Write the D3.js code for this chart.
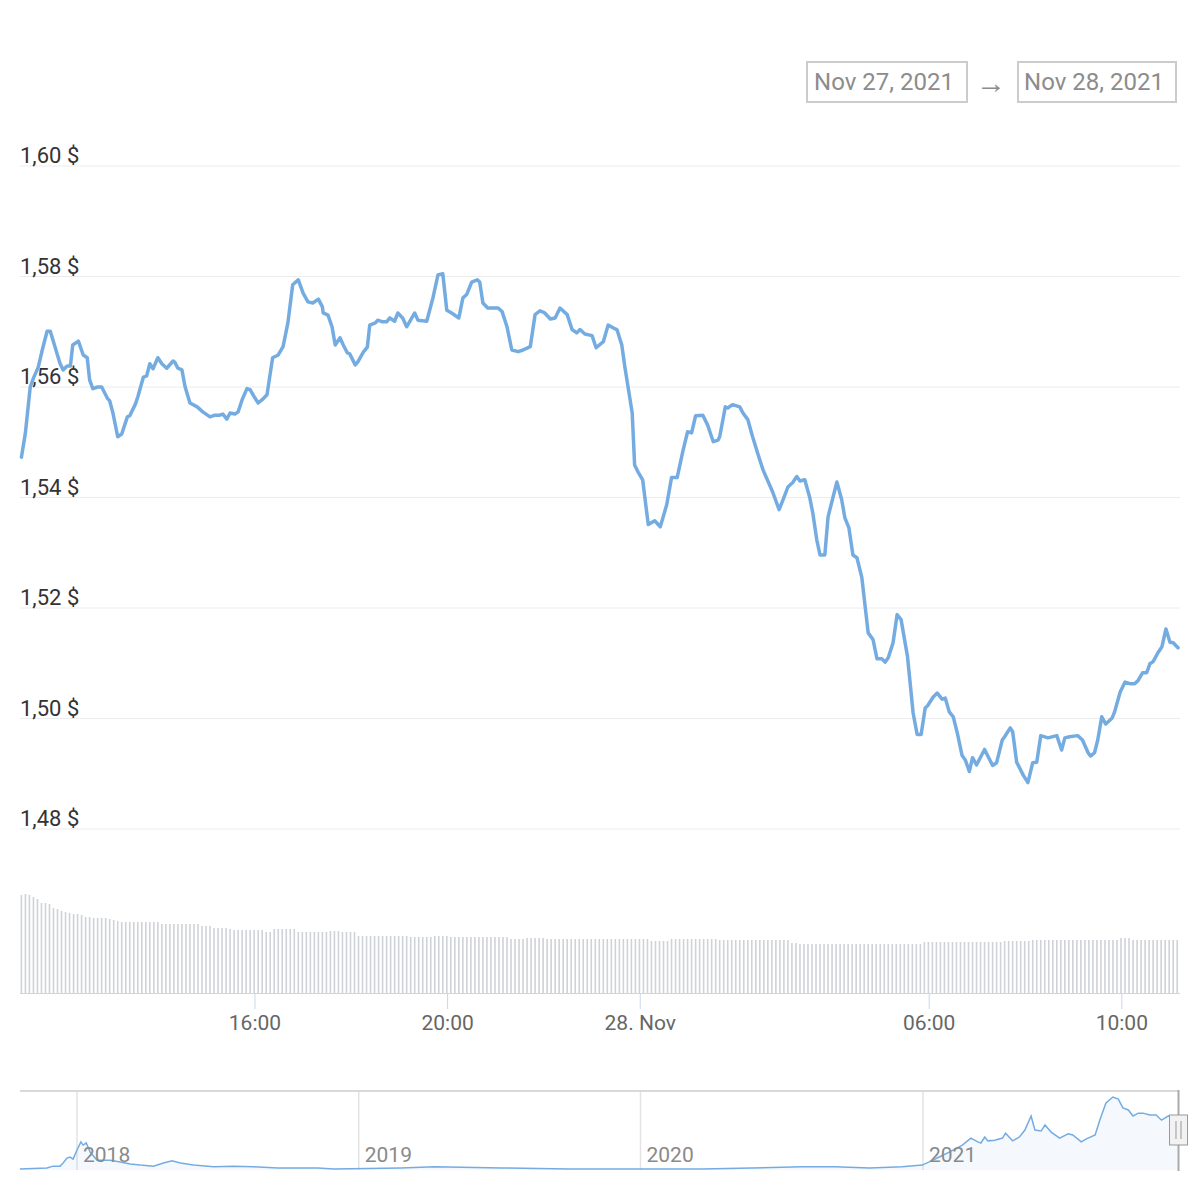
<!DOCTYPE html>
<html><head><meta charset="utf-8">
<script src="https://cdn.jsdelivr.net/npm/d3@7"></script>
<style>body{margin:0;background:#fff} svg{display:block;font-family:Roboto, "Noto Sans", sans-serif}</style>
</head><body><svg id="c" width="1200" height="1200"></svg>
<script>
// ---- data ----
// minutes after 2021-11-27 00:00
const priceMinutes = [669,674,680,684,690,695,701,705,711,717,721,726,730,733,740,746,751,754,758,764,769,776,779,783,789,794,801,804,811,814,821,825,829,833,839,844,850,858,860,864,869,873,879,888,895,904,910,916,920,925,929,935,939,944,950,954,960,964,969,975,982,989,995,1001,1007,1014,1020,1026,1032,1039,1044,1045,1051,1056,1060,1066,1070,1075,1078,1085,1088,1095,1100,1103,1110,1113,1119,1124,1128,1134,1138,1144,1149,1159,1163,1174,1182,1188,1194,1199,1205,1214,1219,1224,1230,1237,1240,1244,1250,1263,1268,1274,1280,1288,1294,1303,1309,1315,1321,1328,1334,1340,1349,1355,1361,1365,1371,1380,1385,1394,1400,1409,1411,1417,1421,1430,1433,1437,1443,1450,1458,1465,1473,1479,1486,1493,1499,1504,1509,1518,1524,1531,1537,1539,1546,1549,1555,1564,1568,1574,1580,1587,1593,1605,1613,1618,1624,1630,1635,1639,1645,1651,1655,1660,1664,1670,1674,1685,1691,1695,1700,1705,1710,1716,1724,1730,1735,1741,1745,1749,1755,1760,1765,1773,1780,1785,1790,1795,1798,1805,1810,1816,1820,1825,1830,1835,1841,1845,1850,1854,1859,1869,1879,1884,1891,1894,1901,1904,1909,1917,1923,1929,1934,1939,1948,1959,1965,1969,1975,1985,1991,1998,2001,2006,2010,2015,2020,2028,2031,2038,2044,2050,2056,2060,2066,2071,2075,2079,2085,2090,2095,2100,2104,2110];
const prices = [1.5473,1.5517,1.5600,1.5616,1.5636,1.5667,1.5701,1.5701,1.5672,1.5643,1.5631,1.5638,1.5638,1.5676,1.5683,1.5658,1.5653,1.5613,1.5597,1.5600,1.5600,1.5580,1.5575,1.5553,1.5510,1.5515,1.5546,1.5548,1.5569,1.5582,1.5618,1.5620,1.5642,1.5633,1.5653,1.5642,1.5634,1.5647,1.5645,1.5634,1.5631,1.5600,1.5571,1.5564,1.5555,1.5546,1.5549,1.5549,1.5551,1.5542,1.5553,1.5551,1.5555,1.5577,1.5597,1.5595,1.5580,1.5571,1.5577,1.5586,1.5653,1.5658,1.5673,1.5716,1.5785,1.5794,1.5770,1.5754,1.5752,1.5759,1.5745,1.5734,1.5730,1.5709,1.5676,1.5689,1.5676,1.5662,1.5660,1.5640,1.5645,1.5663,1.5672,1.5712,1.5716,1.5721,1.5718,1.5718,1.5725,1.5719,1.5734,1.5725,1.5709,1.5734,1.5721,1.5719,1.5763,1.5803,1.5805,1.5739,1.5734,1.5725,1.5761,1.5768,1.5790,1.5794,1.5790,1.5752,1.5743,1.5743,1.5736,1.5709,1.5667,1.5664,1.5667,1.5673,1.5731,1.5738,1.5734,1.5723,1.5725,1.5743,1.5731,1.5704,1.5698,1.5704,1.5696,1.5693,1.5671,1.5682,1.5712,1.5705,1.5704,1.5676,1.5635,1.5553,1.5459,1.5447,1.5432,1.5351,1.5358,1.5347,1.5387,1.5436,1.5436,1.5483,1.5519,1.5517,1.5548,1.5549,1.5531,1.5501,1.5504,1.5510,1.5564,1.5562,1.5568,1.5564,1.5553,1.5541,1.5510,1.5477,1.5450,1.5410,1.5378,1.5396,1.5419,1.5427,1.5438,1.5430,1.5432,1.5401,1.5372,1.5323,1.5296,1.5296,1.5365,1.5428,1.5396,1.5363,1.5345,1.5296,1.5291,1.5256,1.5155,1.5143,1.5108,1.5108,1.5102,1.5110,1.5137,1.5188,1.5179,1.5112,1.5010,1.4971,1.4971,1.5019,1.5023,1.5039,1.5046,1.5035,1.5037,1.5012,1.5003,1.4974,1.4933,1.4925,1.4904,1.4929,1.4916,1.4944,1.4915,1.4920,1.4961,1.4967,1.4983,1.4976,1.4921,1.4898,1.4884,1.4920,1.4921,1.4969,1.4965,1.4969,1.4943,1.4965,1.4967,1.4969,1.4961,1.4938,1.4932,1.4938,1.4961,1.5003,1.4990,1.5001,1.5012,1.5048,1.5066,1.5063,1.5063,1.5068,1.5083,1.5083,1.5099,1.5103,1.5119,1.5130,1.5162,1.5138,1.5137,1.5128];
// volume bars, one every 5 minutes from the first price minute (relative units)
const volumeStart = 669;
const volumeStep = 5;
const volumes = [
98,99,98,96,94,90,90,89,85,84,82,81,80,79,79,78,76,76,75,75,75,75,74,73,
72,71,71,71,71,71,71,71,71,71,71,69,69,69,69,69,69,69,69,69,69,67,67,67,
65,65,65,65,64,63,63,63,63,63,63,63,63,61,61,64,64,64,64,64,64,61,61,61,
61,61,61,61,61,62,62,62,61,61,61,61,57,57,57,57,57,57,57,57,57,57,57,57,
57,56,56,56,56,56,56,57,57,57,57,56,56,56,56,56,56,56,56,56,56,56,56,56,
56,56,54,54,54,54,55,55,55,55,55,54,54,54,54,54,54,54,54,54,54,54,54,54,
54,54,54,54,54,54,54,54,54,54,54,54,54,52,52,52,52,52,54,54,54,54,54,54,
54,54,54,54,54,54,53,53,53,53,53,53,53,53,53,53,53,53,53,53,53,53,53,53,
50,50,49,49,49,49,49,49,49,49,49,49,49,49,49,49,49,49,49,49,49,49,49,49,
49,49,49,49,49,49,49,49,49,51,51,51,51,51,51,51,51,51,51,51,51,51,51,51,
51,51,51,51,51,52,52,52,52,52,52,52,53,53,53,53,53,53,53,53,53,53,53,53,
53,53,53,53,53,53,53,53,53,53,55,55,55,53,53,53,53,53,53,53,53,53,53,53,
53];
const yTicks = [1.48,1.50,1.52,1.54,1.56,1.58,1.60];
const xTickMinutes = [960,1200,1440,1800,2040];
const xTickLabels = ["16:00","20:00","28. Nov","06:00","10:00"];
// navigator (full history)
const navDates = ["2017-10-19","2017-11-23","2017-12-01","2017-12-10","2017-12-14","2017-12-19","2017-12-23","2017-12-27","2018-01-01","2018-01-06","2018-01-09","2018-01-13","2018-01-18","2018-01-27","2018-02-13","2018-02-26","2018-03-11","2018-03-24","2018-04-10","2018-04-23","2018-05-04","2018-05-15","2018-06-01","2018-06-27","2018-07-23","2018-08-18","2018-09-18","2018-11-09","2018-11-30","2019-02-25","2019-04-09","2019-07-05","2019-09-30","2019-12-24","2020-03-21","2020-05-24","2020-07-28","2020-09-09","2020-10-24","2020-12-05","2020-12-31","2021-01-09","2021-01-22","2021-02-04","2021-02-21","2021-03-04","2021-03-13","2021-03-17","2021-03-22","2021-03-26","2021-04-04","2021-04-14","2021-04-18","2021-04-27","2021-05-06","2021-05-13","2021-05-21","2021-05-26","2021-06-03","2021-06-08","2021-06-16","2021-06-27","2021-07-08","2021-07-14","2021-07-25","2021-07-31","2021-08-12","2021-08-18","2021-08-26","2021-09-04","2021-09-11","2021-09-17","2021-09-24","2021-09-30","2021-10-07","2021-10-13","2021-10-22","2021-10-30","2021-11-06","2021-11-15","2021-11-21","2021-11-28"];
const navValues = [0.03,0.06,0.11,0.11,0.20,0.34,0.37,0.31,0.57,0.80,0.71,0.77,0.51,0.28,0.28,0.23,0.17,0.14,0.11,0.20,0.26,0.20,0.14,0.09,0.11,0.09,0.06,0.06,0.03,0.06,0.09,0.06,0.03,0.03,0.03,0.06,0.09,0.09,0.06,0.09,0.14,0.23,0.37,0.51,0.71,0.91,0.80,0.77,0.94,0.83,0.85,0.91,1.05,0.83,0.94,1.14,1.54,1.14,1.11,1.28,1.08,0.91,1.03,1.00,0.80,0.88,1.00,1.42,1.91,2.08,2.02,1.77,1.71,1.54,1.62,1.62,1.57,1.57,1.42,1.54,1.48,1.51];
const navYears = ["2018","2019","2020","2021"];
const dateFrom = "Nov 27, 2021";
const dateTo = "Nov 28, 2021";

// ---- drawing ----
const svg = d3.select("#c");
const base = new Date(2021,10,27,0,0,0);
const toDate = m => new Date(base.getTime() + m*60000);

const x = d3.scaleTime()
  .domain([toDate(priceMinutes[0]), toDate(priceMinutes[priceMinutes.length-1])])
  .range([21.4, 1178]);
const y = d3.scaleLinear().domain([1.48,1.60]).range([829,166]);
const yv = d3.scaleLinear().domain([0,100]).range([993,893]);

// grid lines
svg.append("g").selectAll("line").data(yTicks).join("line")
  .attr("x1",20).attr("x2",1180)
  .attr("y1",d=>y(d)).attr("y2",d=>y(d))
  .attr("stroke","#ececec").attr("stroke-width",1);

// y labels
const fmt = d3.format(".2f");
svg.append("g").selectAll("text").data(yTicks).join("text")
  .attr("x",20).attr("y",d=>y(d)-3)
  .attr("font-size",22).attr("fill","#333")
  .text(d=>fmt(d).replace(".",",")+" $");

// volume bars
svg.append("g").selectAll("rect").data(volumes).join("rect")
  .attr("x",(d,i)=>x(toDate(volumeStart+i*volumeStep))-0.8)
  .attr("width",1.6)
  .attr("y",d=>yv(d))
  .attr("height",d=>yv(0)-yv(d))
  .attr("fill","#cfd2d7");

// x axis line
svg.append("line").attr("x1",20).attr("x2",1180).attr("y1",993.5).attr("y2",993.5)
  .attr("stroke","#ccd6eb").attr("stroke-width",1);
const xt = svg.append("g");
xt.selectAll("line").data(xTickMinutes).join("line")
  .attr("x1",d=>x(toDate(d))).attr("x2",d=>x(toDate(d)))
  .attr("y1",993).attr("y2",1009).attr("stroke","#ccd6eb").attr("stroke-width",1);
xt.selectAll("text").data(xTickMinutes).join("text")
  .attr("x",d=>x(toDate(d))).attr("y",1030)
  .attr("text-anchor","middle").attr("font-size",21).attr("fill","#666")
  .text((d,i)=>xTickLabels[i]);

// price line
const line = d3.line().x((d,i)=>x(toDate(priceMinutes[i]))).y(d=>y(d)).curve(d3.curveLinear);
svg.append("path").datum(prices).attr("d",line)
  .attr("fill","none").attr("stroke","#74ace2").attr("stroke-width",3.5)
  .attr("stroke-linejoin","round").attr("stroke-linecap","round");

// date range inputs
const dr = svg.append("g");
dr.append("rect").attr("x",807).attr("y",62).attr("width",160).attr("height",40)
  .attr("fill","#fff").attr("stroke","#cccccc").attr("stroke-width",2);
dr.append("text").attr("x",884).attr("y",90).attr("text-anchor","middle")
  .attr("font-size",24).attr("fill","#8c8c8c").text(dateFrom);
dr.append("text").attr("x",991).attr("y",93).attr("text-anchor","middle")
  .attr("font-size",30).attr("fill","#8c8c8c").text("→");
dr.append("rect").attr("x",1018).attr("y",62).attr("width",158).attr("height",40)
  .attr("fill","#fff").attr("stroke","#cccccc").attr("stroke-width",2);
dr.append("text").attr("x",1094).attr("y",90).attr("text-anchor","middle")
  .attr("font-size",24).attr("fill","#8c8c8c").text(dateTo);

// navigator
const pd = d3.timeParse("%Y-%m-%d");
const nx = d3.scaleTime().domain([new Date(2018,0,1), new Date(2021,0,1)]).range([77,923]);
const ny = d3.scaleLinear().domain([0,2.1]).range([1170,1096.3]);
const nav = svg.append("g");
nav.selectAll("line.yr").data(navYears).join("line").attr("class","yr")
  .attr("x1",d=>nx(new Date(+d,0,1))).attr("x2",d=>nx(new Date(+d,0,1)))
  .attr("y1",1091).attr("y2",1170).attr("stroke","#e3e3e3").attr("stroke-width",1.5);
const area = d3.area().x((d,i)=>nx(pd(navDates[i]))).y0(1170).y1(d=>ny(d));
nav.append("path").datum(navValues).attr("d",area).attr("fill","rgba(116,172,226,0.07)");
const nline = d3.line().x((d,i)=>nx(pd(navDates[i]))).y(d=>ny(d));
nav.append("path").datum(navValues).attr("d",nline)
  .attr("fill","none").attr("stroke","#74ace2").attr("stroke-width",1.5);
nav.selectAll("text").data(navYears).join("text")
  .attr("x",d=>nx(new Date(+d,0,1))+6).attr("y",1162)
  .attr("font-size",21).attr("fill","#8a8a8a").text(d=>d);
nav.append("line").attr("x1",20).attr("x2",1178).attr("y1",1091).attr("y2",1091)
  .attr("stroke","#cccccc").attr("stroke-width",1.5);
// selected range edge + handle
const hx = nx(pd(navDates[navDates.length-1]));
nav.append("line").attr("x1",hx).attr("x2",hx).attr("y1",1090).attr("y2",1171)
  .attr("stroke","#aaaaaa").attr("stroke-width",2);
nav.append("rect").attr("x",hx-9).attr("y",1115).attr("width",18).attr("height",30)
  .attr("fill","#f2f2f2").attr("stroke","#999").attr("stroke-width",1);
nav.append("line").attr("x1",hx-2.5).attr("x2",hx-2.5).attr("y1",1121).attr("y2",1139).attr("stroke","#999");
nav.append("line").attr("x1",hx+2.5).attr("x2",hx+2.5).attr("y1",1121).attr("y2",1139).attr("stroke","#999");
</script>
</body></html>
